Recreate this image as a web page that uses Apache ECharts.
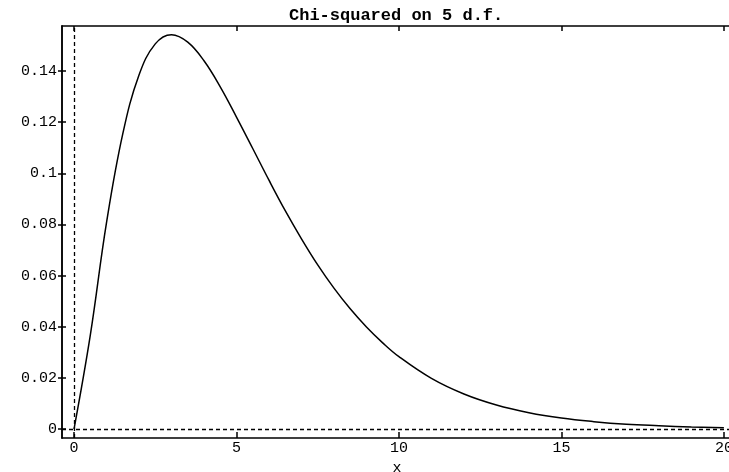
<!DOCTYPE html>
<html>
<head>
<meta charset="utf-8">
<script src="https://cdn.jsdelivr.net/npm/echarts@6/dist/echarts.min.js"></script>
<style>html,body{margin:0;padding:0;background:#fff}#c{width:729px;height:472px}</style>
</head>
<body>
<div id="c"></div>
<script>
// Values
var xValues = [0, 0.5, 1, 1.5, 2, 2.5, 3, 3.5, 4, 4.5, 5, 5.5, 6, 6.5, 7, 7.5, 8, 8.5, 9, 9.5, 10, 11, 12, 13, 14, 15, 16, 17, 18, 19, 20];
var densityValues = [0, 0.0366, 0.0807, 0.1154, 0.1384, 0.1506, 0.1542, 0.1513, 0.1440, 0.1338, 0.1220, 0.1097, 0.0973, 0.0854, 0.0744, 0.0642, 0.0551, 0.0470, 0.0399, 0.0337, 0.0283, 0.0198, 0.0137, 0.0094, 0.0064, 0.0043, 0.0029, 0.0019, 0.0013, 0.0008, 0.0005];
var xTicks = [0, 5, 10, 15, 20];
var yTicks = [0, 0.02, 0.04, 0.06, 0.08, 0.1, 0.12, 0.14];
var titleText = 'Chi-squared on 5 d.f.';
var xName = 'x';

var font = 'Liberation Mono';
var data = xValues.map(function (x, i) { return [x, densityValues[i]]; });
var chart = echarts.init(document.getElementById('c'));
var axisLine = { show: true, onZero: false, lineStyle: { color: '#000', width: 1.5 } };
chart.setOption({
  animation: false,
  backgroundColor: '#fff',
  title: {
    text: titleText, left: 284, top: 2,
    textStyle: { fontFamily: font, fontSize: 17, fontWeight: 'bold', color: '#000' }
  },
  grid: { left: 62, top: 26, width: 670, bottom: 34, outerBoundsMode: 'none', containLabel: false },
  xAxis: [{
    type: 'value', min: -0.37, max: 20.25, position: 'bottom',
    name: xName, nameLocation: 'middle', nameGap: 21,
    nameTextStyle: { fontFamily: font, fontSize: 15, color: '#000' },
    axisLine: axisLine,
    axisTick: { show: true, inside: true, length: 6, customValues: xTicks, lineStyle: { color: '#000', width: 1.5 } },
    axisLabel: { customValues: xTicks, margin: 3, fontFamily: font, fontSize: 15, color: '#000' },
    splitLine: { show: false }
  }, {
    type: 'value', min: -0.37, max: 20.25, position: 'top',
    axisLine: axisLine,
    axisTick: { show: true, inside: true, length: 5, customValues: xTicks, lineStyle: { color: '#000', width: 1.5 } },
    axisLabel: { show: false },
    splitLine: { show: false }
  }],
  yAxis: [{
    type: 'value', min: -0.0035, max: 0.1576, position: 'left',
    axisLine: axisLine,
    axisTick: { show: true, inside: false, length: 4, customValues: yTicks, lineStyle: { color: '#000', width: 1.5 } },
    axisLabel: { customValues: yTicks, margin: 5, fontFamily: font, fontSize: 15, color: '#000' },
    splitLine: { show: false }
  }, {
    type: 'value', min: -0.0035, max: 0.1576, position: 'left',
    axisLine: axisLine,
    axisTick: { show: true, inside: true, length: 4, customValues: yTicks, lineStyle: { color: '#000', width: 1.5 } },
    axisLabel: { show: false },
    splitLine: { show: false }
  }],
  series: [{
    type: 'line', data: data, showSymbol: false, symbol: 'none',
    smooth: 0.4,
    lineStyle: { color: '#000', width: 1.5 },
    markLine: {
      silent: true, symbol: 'none', label: { show: false },
      lineStyle: { color: '#000', type: [4, 3], width: 1.3 },
      data: [{ xAxis: 0 }, { yAxis: 0 }]
    }
  }]
});
</script>
</body>
</html>
